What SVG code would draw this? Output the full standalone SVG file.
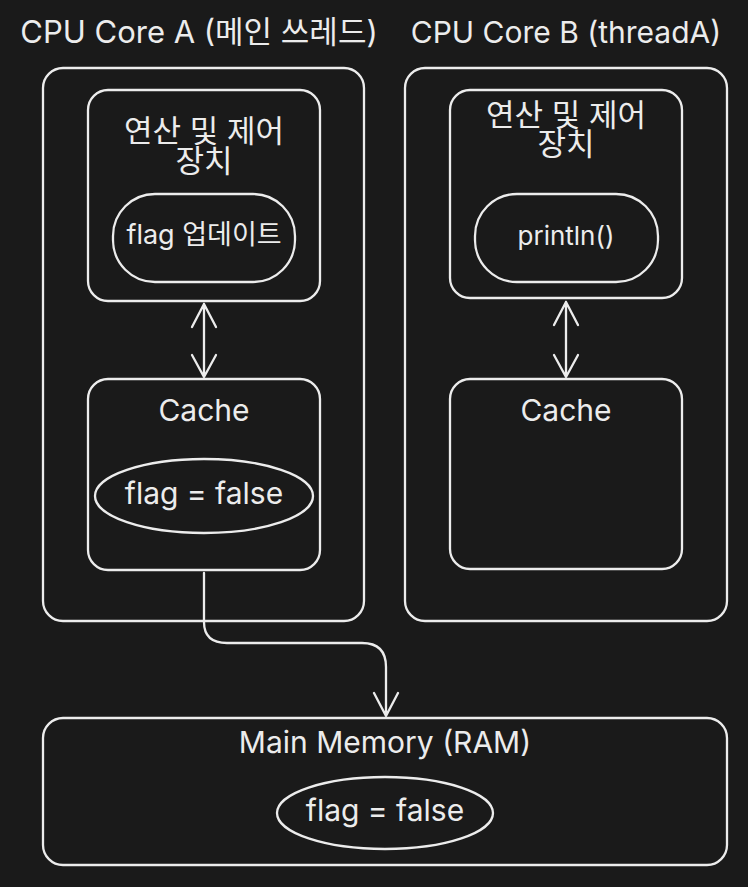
<svg xmlns="http://www.w3.org/2000/svg" width="748" height="887" viewBox="0 0 748 887">
<defs>
<style>
.bg{fill:#1a1a1a}
.box{fill:none;stroke:#ececec;stroke-width:2.3;stroke-linejoin:round}
.ln{fill:none;stroke:#ececec;stroke-width:2.3;stroke-linecap:round;stroke-linejoin:round}
text{font-family:Inter,"Noto Sans CJK KR",sans-serif;fill:#ececec;text-anchor:middle}
.t30{font-size:30px}
.t31{font-size:31px}
.tk{font-size:31px}
.t27{font-size:27px}
.t26{font-size:26px}
</style>
</defs>
<rect class="bg" x="0" y="0" width="748" height="887"/>
<g id="title-a"><text class="t31" x="199" y="43">CPU Core A (메인 쓰레드)</text></g>
<g id="title-b"><text class="t30" x="566" y="43">CPU Core B (threadA)</text></g>
<g id="core-a"><rect class="box" x="43" y="68" width="321" height="553" rx="20"/></g>
<g id="core-b"><rect class="box" x="405" y="68" width="322" height="553" rx="20"/></g>
<g id="alu-a"><rect class="box" x="88" y="90" width="232" height="211" rx="20"/>
<text class="tk" x="204" y="142"><tspan x="204" y="142">연산 및 제어</tspan><tspan x="204" y="172">장치</tspan></text></g>
<g id="flag-update"><rect class="box" x="113" y="194" width="182" height="88" rx="42"/>
<text class="t27" x="204" y="244">flag 업데이트</text></g>
<g id="alu-b"><rect class="box" x="450" y="90" width="232" height="208" rx="20"/>
<text class="tk" x="566" y="126"><tspan x="566" y="126">연산 및 제어</tspan><tspan x="566" y="155">장치</tspan></text></g>
<g id="println"><rect class="box" x="475" y="194" width="183" height="88" rx="42"/>
<text class="t26" x="566" y="245">println()</text></g>
<g id="cache-a"><rect class="box" x="88" y="379" width="232" height="191" rx="20"/>
<text class="t30" x="204" y="421">Cache</text></g>
<g id="cache-a-flag"><ellipse class="box" cx="204" cy="496" rx="109" ry="37"/>
<text class="t30" x="204" y="504">flag = false</text></g>
<g id="cache-b"><rect class="box" x="450" y="379" width="232" height="190" rx="20"/>
<text class="t30" x="566" y="421">Cache</text></g>
<g id="ram"><rect class="box" x="43" y="718" width="684" height="147" rx="20"/>
<text class="t30" x="385" y="753">Main Memory (RAM)</text></g>
<g id="ram-flag"><ellipse class="box" cx="385" cy="813" rx="108" ry="36"/>
<text class="t30" x="385" y="821">flag = false</text></g>
<g id="connectors">
<path class="ln" d="M204 304 V377 M192 327 L204 304 L216 327 M192 355 L204 377 L216 355"/>
<path class="ln" d="M566 302 V377 M554 325 L566 302 L578 325 M554 355 L566 377 L578 355"/>
<path class="ln" d="M204 573 V622 Q204 643 227 643 H362 Q386 643 386 667 V716 M374 693 L386 716 L398 693"/>
</g>
</svg>
